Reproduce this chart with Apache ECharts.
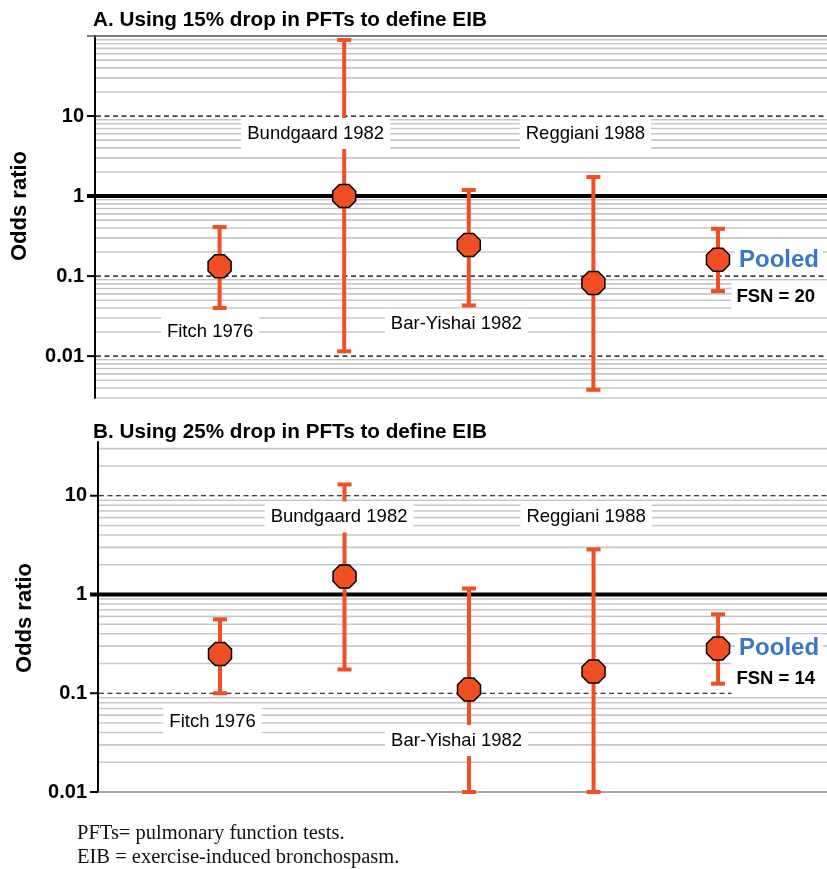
<!DOCTYPE html>
<html>
<head>
<meta charset="utf-8">
<script src="https://cdn.jsdelivr.net/npm/echarts@6/dist/echarts.min.js"></script>
<style>
  html, body { margin: 0; padding: 0; background: #fff; }
  #chart { width: 827px; height: 869px; }
</style>
</head>
<body>
<div id="chart"></div>
<script>
const studies = ['Fitch 1976', 'Bundgaard 1982', 'Bar-Yishai 1982', 'Reggiani 1988', 'Pooled']

// A. 15% drop in PFTs
const orA = [0.133, 1.0, 0.245, 0.082, 0.16]
const lowA = [0.04, 0.0115, 0.043, 0.0038, 0.065]
const highA = [0.41, 89, 1.19, 1.73, 0.39]
const fsnA = 20

// B. 25% drop in PFTs
const orB = [0.25, 1.52, 0.109, 0.166, 0.284]
const lowB = [0.1, 0.174, 0.01, 0.01, 0.125]
const highB = [0.56, 13, 1.15, 2.86, 0.63]
const fsnB = 14

const tickLabels = ['10', '1', '0.1', '0.01']

// where the study names are written (x in study slots, y in odds ratio)
const namePosA = [[0.924, 0.02], [1.771, 6.04], [2.9, 0.025], [3.936, 6.04]]
const namePosB = [[0.94, 0.0518], [1.956, 6.09], [2.9, 0.0332], [3.94, 6.09]]
const pooledPosA = [[5.49, 0.158], [5.5, 0.0546]]
const pooledPosB = [[5.49, 0.284], [5.5, 0.141]]

const RED = '#f04e23'
const FONT = 'Liberation Sans, Arial, sans-serif'
const OCTAGON = 'path://M29.3,0L70.7,0L100,29.3L100,70.7L70.7,100L29.3,100L0,70.7L0,29.3Z'

// gridline values of a log axis: 2..9 in each decade, plus decades
function gridLines(min, max, dashed, top) {
  const rows = []
  for (let e = -3; e <= 2; e++) {
    for (let k = 2; k <= 9; k++) {
      const v = +(k * Math.pow(10, e)).toPrecision(6)
      if (v >= min - 1e-9 && v <= max + 1e-9) rows.push([1, v, 0])
    }
  }
  dashed.forEach(v => rows.push([1, v, 1]))
  rows.push([1, 1, 2])
  if (top) rows.push([1, max, 3])
  return rows
}

function renderGrid(params, api) {
  const cs = params.coordSys
  const x0 = cs.x
  const x1 = cs.x + cs.width
  const y = api.coord([1, api.value(1)])[1]
  const kind = api.value(2)
  const tick = { type: 'line', shape: { x1: x0 - 8, y1: y, x2: x0, y2: y }, style: { stroke: '#000', lineWidth: 2 } }
  if (kind === 0) {
    return { type: 'line', shape: { x1: x0 + 1, y1: y, x2: x1, y2: y }, style: { stroke: '#c3c7ca', lineWidth: 1.6 } }
  }
  if (kind === 1) {
    return { type: 'group', children: [
      { type: 'line', shape: { x1: x0 + 1, y1: y, x2: x1, y2: y }, style: { stroke: '#000', lineWidth: 1.2, lineDash: [5, 3.5] } },
      tick
    ] }
  }
  if (kind === 2) {
    return { type: 'line', shape: { x1: x0 - 8, y1: y, x2: x1, y2: y }, style: { stroke: '#000', lineWidth: 4 } }
  }
  if (kind === 3) {
    return { type: 'line', shape: { x1: x0 - 8, y1: y, x2: x1, y2: y }, style: { stroke: '#555', lineWidth: 1.5 } }
  }
  return tick
}

function renderBar(params, api) {
  const x = api.value(0)
  const hi = api.coord([x, api.value(2)])
  const lo = api.coord([x, api.value(1)])
  const st = { stroke: RED, lineWidth: 4 }
  return { type: 'group', children: [
    { type: 'line', shape: { x1: hi[0], y1: hi[1], x2: lo[0], y2: lo[1] }, style: st },
    { type: 'line', shape: { x1: hi[0] - 7, y1: hi[1], x2: hi[0] + 7, y2: hi[1] }, style: st },
    { type: 'line', shape: { x1: lo[0] - 7, y1: lo[1], x2: lo[0] + 7, y2: lo[1] }, style: st }
  ] }
}

function panelSeries(idx, or, low, high, namePos, pooledPos, fsn, dashed, min, max, top) {
  const nameLabels = namePos.map((p, i) => ({
    value: p, name: studies[i]
  }))
  nameLabels.push({
    value: pooledPos[0], name: studies[4],
    label: { fontSize: 24, fontWeight: 'bold', color: '#3b76c6', padding: [2, 4, 2, 4] }
  })
  nameLabels.push({
    value: pooledPos[1], name: 'FSN = ' + fsn,
    label: { fontSize: 18.5, fontWeight: 'bold', color: '#000', padding: idx === 0 ? [5, 14, 5, 5] : [7, 14, 11, 5] }
  })
  return [
    {
      type: 'custom', xAxisIndex: idx, yAxisIndex: idx, z: 1, silent: true,
      encode: { x: 0, y: 1 },
      data: gridLines(min, max, dashed, top),
      renderItem: renderGrid
    },
    {
      type: 'custom', xAxisIndex: idx, yAxisIndex: idx, z: 3, silent: true,
      encode: { x: 0, y: [1, 2] },
      data: or.map((v, i) => [i + 1, low[i], high[i]]),
      renderItem: renderBar
    },
    {
      type: 'scatter', xAxisIndex: idx, yAxisIndex: idx, z: 4, silent: true,
      symbol: OCTAGON, symbolSize: 23,
      itemStyle: { color: RED, borderColor: '#000', borderWidth: 1.5, opacity: 1 },
      data: or.map((v, i) => [i + 1, v])
    },
    {
      type: 'scatter', xAxisIndex: idx, yAxisIndex: idx, z: 6, silent: true,
      symbolSize: 1, itemStyle: { color: 'rgba(0,0,0,0)', opacity: 1 },
      label: {
        show: true, position: 'inside', formatter: '{b}', opacity: 1,
        fontSize: 18.5, fontFamily: FONT, color: '#000',
        backgroundColor: '#fff', padding: [6, 6, 6, 6]
      },
      data: nameLabels
    }
  ]
}

function fmtTick(v) {
  const s = String(+(+v).toPrecision(6))
  return tickLabels.includes(s) ? s : ''
}

const yAxisBase = {
  type: 'log', logBase: 10,
  axisLine: { show: true, lineStyle: { color: '#000', width: 2 } },
  axisTick: { show: false },
  splitLine: { show: false },
  axisLabel: { formatter: fmtTick, fontSize: 20, fontWeight: 'bold', color: '#000', fontFamily: FONT, margin: 11 }
}

const titleStyle = { fontSize: 20.7, fontWeight: 'bold', color: '#000', fontFamily: FONT }
const serif = '20.5px Liberation Serif, Times New Roman, serif'

const chart = echarts.init(document.getElementById('chart'))
chart.setOption({
  animation: false,
  backgroundColor: '#fff',
  textStyle: { fontFamily: FONT },
  title: [
    { text: 'A. Using 15% drop in PFTs to define EIB', left: 93, top: 10, padding: 0, textStyle: titleStyle },
    { text: 'B. Using 25% drop in PFTs to define EIB', left: 93, top: 422, padding: 0, textStyle: titleStyle }
  ],
  grid: [
    { left: 95, top: 36, width: 732, height: 362 },
    { left: 98, top: 442, width: 729, height: 350 }
  ],
  xAxis: [
    { type: 'value', gridIndex: 0, min: 0, max: 5.875, show: false },
    { type: 'value', gridIndex: 1, min: 0.02, max: 5.875,
      axisLine: { show: true, onZero: false, lineStyle: { color: '#888', width: 1.5 } },
      axisTick: { show: false }, axisLabel: { show: false }, splitLine: { show: false } }
  ],
  yAxis: [
    Object.assign({}, yAxisBase, { gridIndex: 0, min: 0.003, max: 100 }),
    Object.assign({}, yAxisBase, { gridIndex: 1, min: 0.01, max: 35 })
  ],
  graphic: [
    { type: 'text', x: 20, y: 206, rotation: Math.PI / 2,
      style: { text: 'Odds ratio', font: 'bold 22px ' + FONT, fill: '#000',
        align: 'center', verticalAlign: 'middle', textAlign: 'center', textVerticalAlign: 'middle' } },
    { type: 'text', x: 25, y: 618, rotation: Math.PI / 2,
      style: { text: 'Odds ratio', font: 'bold 22px ' + FONT, fill: '#000',
        align: 'center', verticalAlign: 'middle', textAlign: 'center', textVerticalAlign: 'middle' } },
    { type: 'text', x: 77, y: 834,
      style: { text: 'PFTs= pulmonary function tests.', font: serif, fill: '#111',
        verticalAlign: 'middle', textVerticalAlign: 'middle' } },
    { type: 'text', x: 77, y: 858,
      style: { text: 'EIB = exercise-induced bronchospasm.', font: serif, fill: '#111',
        verticalAlign: 'middle', textVerticalAlign: 'middle' } }
  ],
  series: [].concat(
    panelSeries(0, orA, lowA, highA, namePosA, pooledPosA, fsnA, [10, 0.1, 0.01], 0.003, 100, true),
    panelSeries(1, orB, lowB, highB, namePosB, pooledPosB, fsnB, [10, 0.1], 0.01, 35, false),
    [{
      type: 'custom', xAxisIndex: 1, yAxisIndex: 1, z: 2, silent: true,
      encode: { x: 0, y: 1 },
      data: [[1, 0.01, 4]],
      renderItem: renderGrid
    }]
  )
})
</script>
</body>
</html>
